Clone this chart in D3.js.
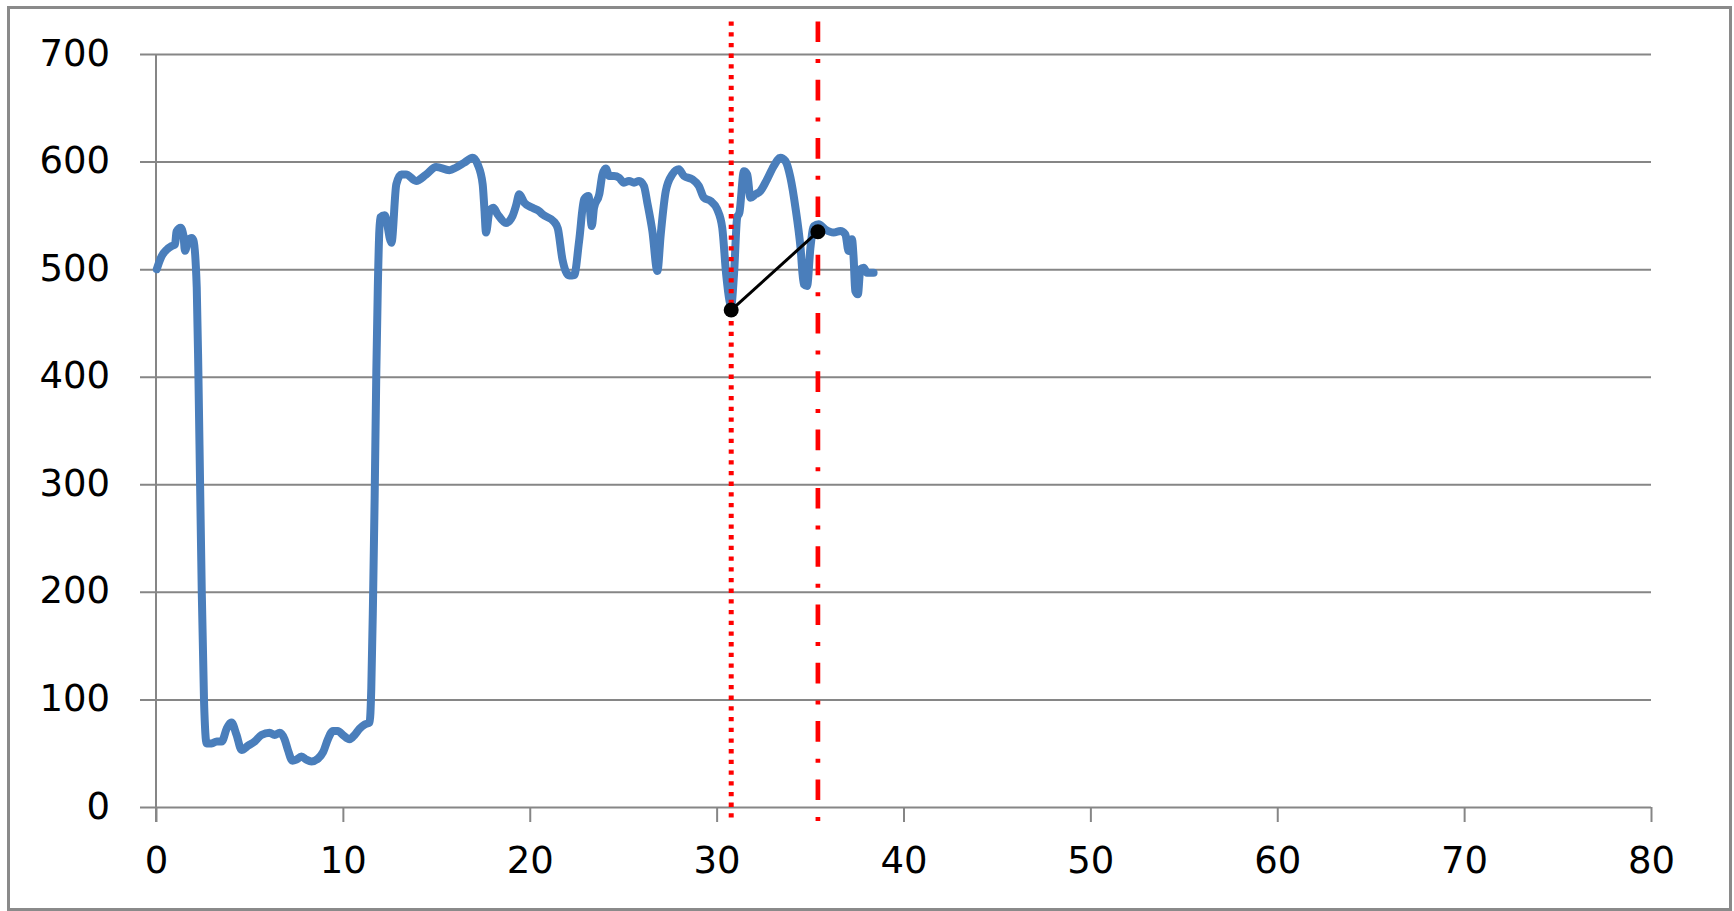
<!DOCTYPE html>
<html>
<head>
<meta charset="utf-8">
<script src="https://cdn.jsdelivr.net/npm/d3@7"></script>
<style>
  html, body { margin: 0; padding: 0; background: #fff; }
  svg { display: block; }
</style>
</head>
<body>
<svg id="chart" width="1734" height="911"></svg>
<script>
// ---- data ----
const xTicks = [0, 10, 20, 30, 40, 50, 60, 70, 80];
const yTicks = [0, 100, 200, 300, 400, 500, 600, 700];

const timeValues = [
  0.04, 0.3, 0.57, 0.84, 1.02, 1.1, 1.32, 1.47, 1.55, 1.73, 1.91, 2.0, 2.18, 2.27, 2.36, 2.45, 2.57, 2.71,
  2.98, 3.25, 3.52, 3.78, 4.04, 4.31, 4.58, 4.93, 5.29, 5.64, 6.08, 6.35, 6.62, 6.88, 7.06, 7.3, 7.51, 7.78,
  8.05, 8.32, 8.67, 8.94, 9.2, 9.47, 9.73, 10.0, 10.36, 10.63, 10.89, 11.16, 11.43, 11.52, 11.61, 11.7, 11.79,
  11.87, 12.0, 12.24, 12.6, 12.86, 13.13, 13.38, 13.92, 14.46, 14.99, 15.7, 16.06, 16.5, 16.94, 17.21, 17.48,
  17.57, 17.66, 17.83, 18.05, 18.28, 18.73, 19.08, 19.26, 19.44, 19.71, 20.15, 20.5, 20.68, 21.3, 21.5, 21.75,
  22.11, 22.38, 22.64, 22.91, 23.14, 23.32, 23.44, 23.72, 23.89, 24.07, 24.25, 24.51, 24.78, 25.04, 25.31,
  25.58, 25.85, 26.11, 26.29, 26.56, 26.83, 27.01, 27.28, 27.63, 27.98, 28.25, 28.69, 29.05, 29.32, 29.68,
  30.03, 30.3, 30.51, 30.69, 30.77, 30.93, 31.1, 31.22, 31.46, 31.64, 31.81, 32.08, 32.34, 32.7, 33.06, 33.41,
  33.68, 33.95, 34.22, 34.49, 34.66, 34.84, 35.02, 35.2, 35.46, 35.81, 36.26, 36.62, 36.89, 37.06, 37.24,
  37.33, 37.42, 37.56, 37.69, 37.87, 38.04, 38.31, 38.4
];
const signalValues = [
  500, 512, 518, 521.5, 523, 535, 538.5, 531, 517, 527, 529, 527, 483, 401, 299, 199, 98.5, 59,
  59, 61, 61, 72.7, 78.6, 67, 53, 57, 61, 67, 69, 67, 69, 63, 53, 43, 44, 47,
  44, 42.4, 45, 51, 63, 70.7, 70.7, 67, 63, 67, 72.7, 76.6, 78.6, 110, 188.7, 287, 405,
  483.6, 548, 550, 524.6, 579, 588, 588, 582, 588, 595, 592, 594.5, 599, 603.6, 597.5, 579,
  557, 534, 552.5, 557, 551, 543, 549.4, 558.7, 569.6, 561.8, 557, 554, 551, 544, 538, 509,
  494, 494.5, 526, 565, 568, 540, 557, 569.6, 588, 593.6, 586.6, 586.6, 585, 580.4, 582,
  580.4, 582, 577.3, 561.8, 535.5, 498.3, 532.4, 572.6, 588, 592.8, 586.6, 583.5, 577.3, 566.4, 563.3,
  555.6, 538.5, 495.2, 470.4, 465, 495, 548, 552.5, 591, 588, 566.4, 569.6, 572.6, 583.5, 595.9, 603.6,
  600.5, 585, 557, 520, 486, 484.4, 520, 540, 541.7, 537, 534, 535.5, 532.4, 516.9, 527.8,
  510.6, 479.7, 476.6, 499.9, 501.4, 496.7, 496.7, 496.7
];

const dottedMarkerX = 30.78;
const dashDotMarkerX = 35.42;
const segmentX = [30.78, 35.42];
const segmentY = [462, 534.8];

// ---- layout ----
const svg = d3.select("#chart");
const x = d3.scaleLinear().domain([0, 80]).range([156, 1651]);
const y = d3.scaleLinear().domain([0, 700]).range([807, 54]);
const gridColor = "#868686";
const fontFamily = "'DejaVu Sans', sans-serif";

// frame
svg.append("rect")
  .attr("x", 8.5).attr("y", 7.5).attr("width", 1722).attr("height", 902)
  .attr("fill", "#fff").attr("stroke", "#8a8a8a").attr("stroke-width", 3);

// y axis with gridlines
const yAxis = d3.axisLeft(y).tickValues(yTicks).tickSizeInner(-(x(80) - x(0))).tickSizeOuter(0).tickPadding(46);
const gy = svg.append("g").attr("transform", `translate(${x(0)},0)`).call(yAxis);
gy.select(".domain").remove();
gy.selectAll(".tick line").attr("x1", -16).attr("stroke", gridColor).attr("stroke-width", 2);
gy.selectAll(".tick text").attr("font-family", fontFamily).attr("font-size", 37).attr("fill", "#000").attr("dy", "0.30em");

// x axis ticks
const xAxis = d3.axisBottom(x).tickValues(xTicks).tickSizeInner(15).tickSizeOuter(0).tickPadding(25);
const gx = svg.append("g").attr("transform", `translate(0,${y(0)})`).call(xAxis);
gx.select(".domain").remove();
gx.selectAll(".tick line").attr("stroke", gridColor).attr("stroke-width", 2);
gx.selectAll(".tick text").attr("font-family", fontFamily).attr("font-size", 37).attr("fill", "#000");

// y axis line
svg.append("line")
  .attr("x1", x(0)).attr("x2", x(0)).attr("y1", y(700)).attr("y2", y(0) + 15)
  .attr("stroke", gridColor).attr("stroke-width", 2);

// blue series
const pts = timeValues.map((t, i) => [t, signalValues[i]]);
const line = d3.line().x(d => x(d[0])).y(d => y(d[1])).curve(d3.curveMonotoneX);
svg.append("path").datum(pts)
  .attr("d", line)
  .attr("fill", "none").attr("stroke", "#4a7ebb").attr("stroke-width", 8)
  .attr("stroke-linejoin", "round").attr("stroke-linecap", "round");

// red vertical markers
svg.append("line")
  .attr("x1", x(dottedMarkerX)).attr("x2", x(dottedMarkerX)).attr("y1", 21.5).attr("y2", 822)
  .attr("stroke", "#ff0000").attr("stroke-width", 5).attr("stroke-dasharray", "4.3,6.4");
svg.append("line")
  .attr("x1", x(dashDotMarkerX)).attr("x2", x(dashDotMarkerX)).attr("y1", 21.5).attr("y2", 822)
  .attr("stroke", "#ff0000").attr("stroke-width", 4.7).attr("stroke-dasharray", "20.6,17,4,16.7");

// black segment
svg.append("line")
  .attr("x1", x(segmentX[0])).attr("y1", y(segmentY[0]))
  .attr("x2", x(segmentX[1])).attr("y2", y(segmentY[1]))
  .attr("stroke", "#000").attr("stroke-width", 3);
svg.selectAll("circle.pt").data(segmentX).enter().append("circle")
  .attr("class", "pt")
  .attr("cx", d => x(d)).attr("cy", (d, i) => y(segmentY[i])).attr("r", 7.5)
  .attr("fill", "#000");
</script>
</body>
</html>
